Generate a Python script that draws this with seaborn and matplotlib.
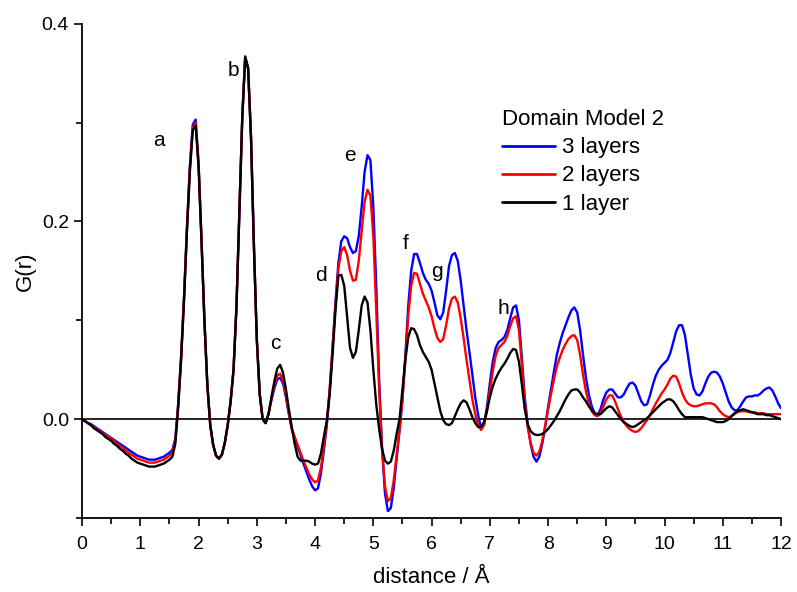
import numpy as np
import pandas as pd
import seaborn as sns
import matplotlib
matplotlib.use("Agg")
import matplotlib.pyplot as plt
from matplotlib.ticker import MultipleLocator, FormatStrFormatter

# distance grid (Angstrom), one row below = 0.5 A
r = np.round(np.arange(0, 12.001, 0.05), 2)

g_one = [
    0.000, -0.002, -0.004, -0.006, -0.009, -0.011, -0.013, -0.015, -0.018, -0.020,
    -0.022, -0.025, -0.027, -0.030, -0.032, -0.035, -0.037, -0.040, -0.042, -0.044,
    -0.045, -0.046, -0.047, -0.048, -0.048, -0.048, -0.047, -0.046, -0.045, -0.043,
    -0.041, -0.038, -0.025, 0.012, 0.060, 0.120, 0.190, 0.250, 0.292, 0.297,
    0.255, 0.180, 0.100, 0.035, -0.006, -0.026, -0.037, -0.040, -0.036, -0.024,
    -0.006, 0.018, 0.050, 0.113, 0.208, 0.305, 0.366, 0.355, 0.285, 0.175,
    0.080, 0.025, 0.000, -0.004, 0.005, 0.022, 0.038, 0.051, 0.055, 0.047,
    0.030, 0.010, -0.008, -0.025, -0.038, -0.042, -0.042, -0.042, -0.043, -0.045,
    -0.046, -0.045, -0.035, -0.018, -0.002, 0.025, 0.065, 0.110, 0.145, 0.146,
    0.135, 0.103, 0.072, 0.062, 0.068, 0.090, 0.115, 0.124, 0.118, 0.090,
    0.050, 0.015, -0.010, -0.030, -0.042, -0.045, -0.043, -0.032, -0.015, 0.000,
    0.030, 0.060, 0.083, 0.092, 0.091, 0.085, 0.075, 0.068, 0.063, 0.058,
    0.050, 0.036, 0.022, 0.008, -0.001, -0.005, -0.006, -0.004, 0.003, 0.010,
    0.016, 0.019, 0.017, 0.010, 0.002, -0.004, -0.008, -0.008, -0.003, 0.008,
    0.022, 0.033, 0.041, 0.047, 0.052, 0.056, 0.061, 0.067, 0.071, 0.070,
    0.058, 0.035, 0.010, -0.005, -0.012, -0.015, -0.016, -0.016, -0.015, -0.013,
    -0.010, -0.006, -0.002, 0.003, 0.008, 0.014, 0.020, 0.025, 0.029, 0.030,
    0.030, 0.027, 0.022, 0.018, 0.013, 0.009, 0.006, 0.005, 0.005, 0.008,
    0.011, 0.013, 0.012, 0.008, 0.004, 0.000, -0.003, -0.005, -0.007, -0.008,
    -0.007, -0.005, -0.003, -0.001, 0.001, 0.004, 0.007, 0.010, 0.013, 0.016,
    0.018, 0.020, 0.020, 0.018, 0.014, 0.009, 0.005, 0.002, 0.002, 0.002,
    0.002, 0.002, 0.002, 0.002, 0.001, 0.000, -0.001, -0.002, -0.003, -0.003,
    -0.003, -0.002, 0.000, 0.003, 0.006, 0.008, 0.009, 0.010, 0.009, 0.008,
    0.007, 0.006, 0.005, 0.005, 0.005, 0.004, 0.004, 0.003, 0.002, 0.001,
    0.000,
]

g_two = [
    0.000, -0.002, -0.004, -0.006, -0.008, -0.010, -0.012, -0.014, -0.016, -0.018,
    -0.020, -0.022, -0.025, -0.027, -0.029, -0.032, -0.034, -0.036, -0.038, -0.040,
    -0.041, -0.042, -0.043, -0.044, -0.044, -0.044, -0.043, -0.042, -0.041, -0.039,
    -0.037, -0.034, -0.022, 0.014, 0.062, 0.122, 0.192, 0.253, 0.295, 0.300,
    0.257, 0.181, 0.100, 0.035, -0.006, -0.026, -0.037, -0.040, -0.036, -0.024,
    -0.006, 0.018, 0.050, 0.113, 0.208, 0.305, 0.366, 0.355, 0.285, 0.175,
    0.080, 0.025, 0.000, -0.004, 0.005, 0.020, 0.034, 0.044, 0.046, 0.039,
    0.024, 0.006, -0.010, -0.018, -0.026, -0.034, -0.042, -0.049, -0.056, -0.061,
    -0.064, -0.062, -0.049, -0.028, -0.005, 0.030, 0.072, 0.115, 0.152, 0.170,
    0.174, 0.166, 0.150, 0.140, 0.141, 0.160, 0.190, 0.220, 0.232, 0.226,
    0.185, 0.110, 0.030, -0.030, -0.068, -0.083, -0.080, -0.062, -0.036, -0.010,
    0.020, 0.060, 0.105, 0.135, 0.148, 0.147, 0.137, 0.127, 0.120, 0.113,
    0.104, 0.092, 0.082, 0.078, 0.081, 0.095, 0.112, 0.122, 0.124, 0.118,
    0.102, 0.082, 0.060, 0.040, 0.020, 0.005, -0.006, -0.011, -0.006, 0.008,
    0.028, 0.048, 0.064, 0.072, 0.075, 0.078, 0.084, 0.094, 0.102, 0.104,
    0.090, 0.055, 0.018, -0.008, -0.024, -0.034, -0.037, -0.033, -0.022, -0.007,
    0.010, 0.025, 0.040, 0.053, 0.062, 0.070, 0.076, 0.081, 0.084, 0.085,
    0.080, 0.065, 0.045, 0.028, 0.016, 0.008, 0.004, 0.003, 0.006, 0.013,
    0.020, 0.024, 0.024, 0.018, 0.010, 0.003, -0.003, -0.007, -0.010, -0.012,
    -0.013, -0.012, -0.009, -0.005, -0.001, 0.004, 0.010, 0.016, 0.021, 0.026,
    0.030, 0.035, 0.041, 0.044, 0.043, 0.036, 0.027, 0.020, 0.016, 0.014,
    0.013, 0.013, 0.014, 0.015, 0.016, 0.016, 0.016, 0.015, 0.012, 0.008,
    0.005, 0.003, 0.002, 0.003, 0.005, 0.007, 0.008, 0.008, 0.008, 0.007,
    0.007, 0.007, 0.006, 0.006, 0.006, 0.005, 0.005, 0.005, 0.005, 0.005,
    0.005,
]

g_three = [
    0.000, -0.002, -0.004, -0.005, -0.007, -0.009, -0.011, -0.013, -0.015, -0.017,
    -0.019, -0.021, -0.023, -0.025, -0.027, -0.029, -0.031, -0.033, -0.035, -0.037,
    -0.038, -0.039, -0.040, -0.041, -0.041, -0.041, -0.040, -0.039, -0.038, -0.036,
    -0.034, -0.031, -0.020, 0.016, 0.064, 0.124, 0.194, 0.256, 0.298, 0.303,
    0.259, 0.182, 0.100, 0.035, -0.006, -0.026, -0.037, -0.040, -0.036, -0.024,
    -0.006, 0.018, 0.050, 0.113, 0.208, 0.305, 0.367, 0.355, 0.285, 0.175,
    0.080, 0.025, 0.000, -0.004, 0.005, 0.019, 0.031, 0.040, 0.042, 0.036,
    0.022, 0.005, -0.010, -0.019, -0.028, -0.036, -0.045, -0.053, -0.061, -0.068,
    -0.072, -0.070, -0.055, -0.032, -0.007, 0.028, 0.072, 0.118, 0.158, 0.180,
    0.185, 0.183, 0.174, 0.168, 0.170, 0.185, 0.215, 0.250, 0.267, 0.262,
    0.215, 0.135, 0.040, -0.030, -0.075, -0.093, -0.090, -0.070, -0.040, -0.012,
    0.020, 0.065, 0.115, 0.150, 0.167, 0.167, 0.158, 0.148, 0.141, 0.137,
    0.130, 0.118, 0.105, 0.101, 0.108, 0.130, 0.155, 0.166, 0.168, 0.160,
    0.140, 0.115, 0.090, 0.068, 0.045, 0.022, 0.004, -0.009, -0.006, 0.012,
    0.036, 0.058, 0.072, 0.078, 0.080, 0.083, 0.090, 0.102, 0.113, 0.115,
    0.100, 0.062, 0.022, -0.005, -0.025, -0.038, -0.043, -0.038, -0.025, -0.008,
    0.012, 0.030, 0.048, 0.065, 0.077, 0.087, 0.095, 0.103, 0.110, 0.113,
    0.108, 0.090, 0.065, 0.042, 0.025, 0.013, 0.006, 0.004, 0.010, 0.020,
    0.027, 0.030, 0.030, 0.026, 0.022, 0.022, 0.025, 0.031, 0.036, 0.037,
    0.034, 0.026, 0.018, 0.014, 0.015, 0.024, 0.035, 0.044, 0.050, 0.054,
    0.057, 0.060, 0.067, 0.078, 0.089, 0.095, 0.095, 0.085, 0.065, 0.045,
    0.031, 0.025, 0.024, 0.028, 0.036, 0.043, 0.047, 0.048, 0.047, 0.043,
    0.036, 0.027, 0.018, 0.012, 0.009, 0.009, 0.013, 0.018, 0.022, 0.023,
    0.023, 0.024, 0.024, 0.026, 0.029, 0.031, 0.032, 0.029, 0.023, 0.016,
    0.011,
]

series_names = ["3 layers", "2 layers", "1 layer"]
series_colors = ["#0000ff", "#ff0000", "#000000"]

peak_labels = ["a", "b", "c", "d", "e", "f", "g", "h"]
peak_x = [1.32, 2.59, 3.31, 4.10, 4.60, 5.55, 6.09, 7.23]
peak_y = [0.282, 0.353, 0.077, 0.145, 0.267, 0.178, 0.149, 0.112]

df = pd.concat([
    pd.DataFrame({"r": r, "G": g_three, "layers": "3 layers"}),
    pd.DataFrame({"r": r, "G": g_two, "layers": "2 layers"}),
    pd.DataFrame({"r": r, "G": g_one, "layers": "1 layer"}),
])

sns.set_style("ticks")
plt.rcParams['font.family'] = ['Liberation Sans', 'DejaVu Sans']
plt.rcParams['text.color'] = 'black'
plt.rcParams['axes.labelcolor'] = 'black'
plt.rcParams['xtick.color'] = 'black'
plt.rcParams['ytick.color'] = 'black'

fig = plt.figure(figsize=(7.97, 5.92), dpi=100)
ax = fig.add_axes([0.103, 0.125, 0.877, 0.835])

ax.axhline(0, color="black", lw=1.2, zorder=1)
sns.lineplot(data=df, x="r", y="G", hue="layers", hue_order=series_names,
             palette=dict(zip(series_names, series_colors)), linewidth=1.7,
             estimator=None, sort=False, ax=ax, zorder=3)

for lab, px, py in zip(peak_labels, peak_x, peak_y):
    ax.text(px, py, lab, fontsize=15, ha="center", va="center", color="black")

ax.set_xlim(0, 12)
ax.set_ylim(-0.1, 0.4)
ax.set_xticks(range(13))
ax.xaxis.set_minor_locator(MultipleLocator(0.5))
ax.set_yticks([0.0, 0.2, 0.4])
ax.yaxis.set_minor_locator(MultipleLocator(0.1))
ax.yaxis.set_major_formatter(FormatStrFormatter("%.1f"))
ax.tick_params(which="major", direction="out", length=6, width=1.2, labelsize=14,
               colors="black")
ax.tick_params(axis="x", which="major", pad=7)
ax.tick_params(which="minor", direction="out", length=4, width=1.2, colors="black")

sns.despine(ax=ax)
for s in ["left", "bottom"]:
    ax.spines[s].set_linewidth(1.3)
    ax.spines[s].set_color("black")

ax.set_xlabel("distance / Å", fontsize=16, labelpad=10)
ax.set_ylabel("G(r)", fontsize=16, labelpad=4)

leg = ax.legend(title="Domain Model 2", frameon=False, loc="upper left",
                bbox_to_anchor=(0.588, 0.845), fontsize=16, title_fontsize=16,
                handlelength=2.4, handletextpad=0.3, labelspacing=0.32,
                alignment="left", borderaxespad=0)
for line in leg.get_lines():
    line.set_linewidth(2)

fig.savefig("out.png", dpi=100)
